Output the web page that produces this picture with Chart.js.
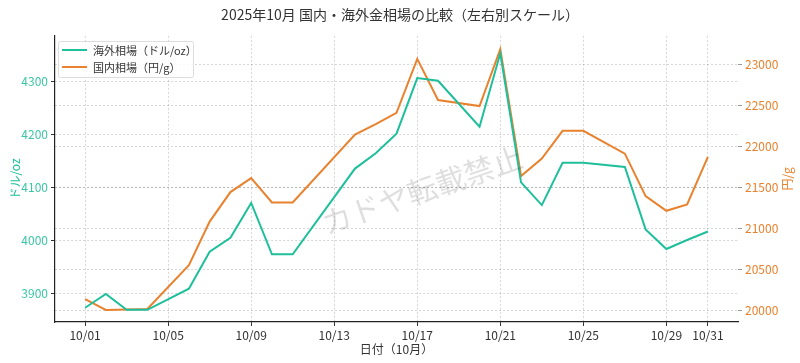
<!DOCTYPE html>
<html lang="ja">
<head>
    <meta charset="UTF-8">
    <title>2025年10月 国内・海外金相場の比較</title>
    <script src="https://cdn.jsdelivr.net/npm/chart.js"></script>
    <style>
        html, body { margin: 0; padding: 0; background: #fff; }
        #wrap { width: 800px; height: 363px; }
    </style>
</head>
<body>
    <div id="wrap"><canvas id="goldChart"></canvas></div>

    <script>
        // 日付（10月の日）と各相場
        const days = [1, 2, 3, 4, 6, 7, 8, 9, 10, 11, 14, 15, 16, 17, 18, 20, 21, 22, 23, 24, 25, 27, 28, 29, 30, 31];
        const overseas = [3873, 3899, 3869, 3869, 3909, 3979, 4005, 4071, 3974, 3974, 4136, 4165, 4202, 4307, 4302, 4215, 4354, 4110, 4067, 4147, 4147, 4139, 4021, 3984, 4001, 4017];
        const domestic = [20135, 20004, 20010, 20016, 20550, 21083, 21443, 21614, 21316, 21316, 22146, 22273, 22412, 23070, 22567, 22494, 23189, 21639, 21852, 22191, 22191, 21913, 21394, 21214, 21291, 21872];
        const dayTicks = [1, 5, 9, 13, 17, 21, 25, 29, 31];
        const leftTicks = [3900, 4000, 4100, 4200, 4300];
        const rightTicks = [20000, 20500, 21000, 21500, 22000, 22500, 23000];

        const green = '#1fbf9b';
        const orange = '#e8822e';
        const font = '"Noto Sans CJK JP", "Noto Sans", sans-serif';

        Chart.defaults.font.family = font;
        Chart.defaults.color = '#333';

        const extras = {
            id: 'extras',
            afterDatasetsDraw(chart) {
                const ctx = chart.ctx;
                const area = chart.chartArea;

                // 透かし
                ctx.save();
                ctx.translate(422, 190);
                ctx.rotate(-19 * Math.PI / 180);
                ctx.font = '30px ' + font;
                ctx.fillStyle = 'rgba(0,0,0,0.13)';
                ctx.textAlign = 'center';
                ctx.textBaseline = 'middle';
                ctx.fillText('カドヤ転載禁止', 0, 0);
                ctx.restore();

                // 凡例
                ctx.save();
                ctx.fillStyle = 'rgba(255,255,255,0.85)';
                ctx.strokeStyle = '#ddd';
                ctx.lineWidth = 1;
                ctx.beginPath();
                ctx.roundRect(58.5, 41.5, 135, 36, 2);
                ctx.fill();
                ctx.stroke();
                ctx.font = '11px ' + font;
                ctx.textBaseline = 'middle';
                chart.data.datasets.forEach((ds, i) => {
                    const y = 50 + i * 17;
                    ctx.strokeStyle = ds.borderColor;
                    ctx.lineWidth = 2;
                    ctx.beginPath();
                    ctx.moveTo(62, y);
                    ctx.lineTo(87, y);
                    ctx.stroke();
                    ctx.fillStyle = '#333';
                    ctx.fillText(ds.label, 93, y + 1);
                });
                ctx.restore();

                // 右軸タイトル
                ctx.save();
                ctx.translate(787, (area.top + area.bottom) / 2);
                ctx.rotate(-Math.PI / 2);
                ctx.font = '12px ' + font;
                ctx.fillStyle = orange;
                ctx.textAlign = 'center';
                ctx.textBaseline = 'middle';
                ctx.fillText('円/g', 0, 0);
                ctx.restore();
            }
        };

        const gridOpts = tickColor => ({
            color: 'rgba(0,0,0,0.16)',
            tickColor: tickColor,
            tickLength: 4,
            tickBorderDash: []
        });

        new Chart(document.getElementById('goldChart'), {
            type: 'line',
            data: {
                datasets: [{
                    label: '海外相場（ドル/oz）',
                    data: days.map((d, i) => ({ x: d, y: overseas[i] })),
                    borderColor: green,
                    borderWidth: 2,
                    pointRadius: 0,
                    yAxisID: 'y',
                    tension: 0
                }, {
                    label: '国内相場（円/g）',
                    data: days.map((d, i) => ({ x: d, y: domestic[i] })),
                    borderColor: orange,
                    borderWidth: 2,
                    pointRadius: 0,
                    yAxisID: 'y2',
                    tension: 0
                }]
            },
            options: {
                responsive: true,
                maintainAspectRatio: false,
                animation: false,
                plugins: {
                    legend: { display: false },
                    tooltip: { enabled: false },
                    title: {
                        display: true,
                        text: '2025年10月 国内・海外金相場の比較（左右別スケール）',
                        font: { size: 14, weight: 'normal' },
                        color: '#333',
                        padding: { top: 6, bottom: 13 }
                    }
                },
                scales: {
                    x: {
                        type: 'linear',
                        min: -0.45,
                        max: 32.45,
                        afterBuildTicks: axis => { axis.ticks = dayTicks.map(v => ({ value: v })); },
                        afterFit: axis => { axis.height = 41; },
                        ticks: {
                            callback: v => '10/' + String(v).padStart(2, '0'),
                            font: { size: 12 },
                            color: '#333',
                            padding: 2,
                            maxRotation: 0
                        },
                        grid: gridOpts('#333'),
                        border: { display: true, color: '#222', width: 1.2, dash: [2, 2] },
                        title: {
                            display: true,
                            text: '日付（10月）',
                            font: { size: 12 },
                            color: '#333',
                            padding: { top: 2, bottom: 6 }
                        }
                    },
                    y: {
                        position: 'left',
                        min: 3846,
                        max: 4387,
                        afterBuildTicks: axis => { axis.ticks = leftTicks.map(v => ({ value: v })); },
                        afterFit: axis => { axis.width = 55; },
                        ticks: { font: { size: 12 }, color: '#3cc6a6', padding: 3, callback: v => String(v) },
                        grid: gridOpts('#333'),
                        border: { display: true, color: '#222', width: 1.2, dash: [2, 2] },
                        title: {
                            display: true,
                            text: 'ドル/oz',
                            font: { size: 12 },
                            color: green,
                            padding: { top: 8, bottom: 0 }
                        }
                    },
                    y2: {
                        position: 'right',
                        min: 19856,
                        max: 23352,
                        afterBuildTicks: axis => { axis.ticks = rightTicks.map(v => ({ value: v })); },
                        afterFit: axis => { axis.width = 62; },
                        ticks: { font: { size: 12 }, color: orange, padding: 3, callback: v => String(v) },
                        grid: gridOpts('#999'),
                        border: { display: false, dash: [2, 2] }
                    }
                }
            },
            plugins: [extras]
        });
    </script>
</body>
</html>
